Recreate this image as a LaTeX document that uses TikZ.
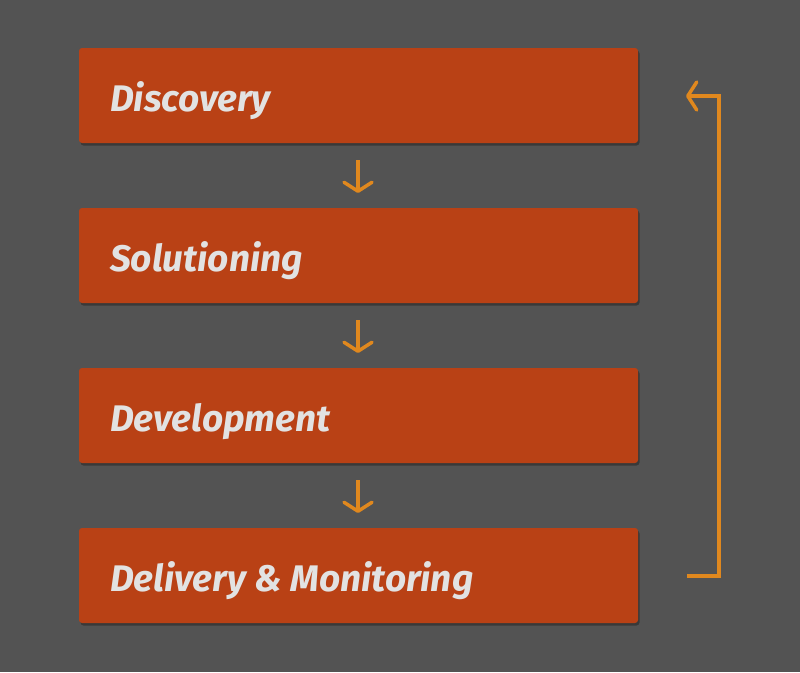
\documentclass[tikz,border=0pt]{standalone}
\usepackage{fontspec}
\setmainfont{Fira Sans}
\usetikzlibrary{arrows.meta,shadows}
\definecolor{bg}{HTML}{535353}
\definecolor{boxc}{HTML}{B94115}
\definecolor{arrc}{HTML}{E0881E}
\definecolor{txt}{HTML}{E2E2E2}
\tikzset{
  stagebox/.style={fill=boxc, rounded corners=3pt, minimum width=559pt, minimum height=95pt,
    inner sep=0pt, drop shadow={shadow xshift=1.5pt, shadow yshift=-2.5pt, opacity=0.3, fill=black}},
  stagetext/.style={anchor=base west, text=txt, font=\fontsize{37}{41}\selectfont\bfseries\itshape, inner sep=0pt},
  flowarrow/.style={draw=arrc, line width=3.5pt, -{Straight Barb[length=9pt, width=28pt, round]}},
}
\begin{document}
\begin{tikzpicture}[x=1pt,y=-1pt]
\fill[bg] (0,0) rectangle (800,672);
\useasboundingbox (0,0) rectangle (800,672);
\node[stagebox] (b1) at (358.5,95.5) {};
\node[stagebox] (b2) at (358.5,255.5) {};
\node[stagebox] (b3) at (358.5,415.5) {};
\node[stagebox] (b4) at (358.5,575.5) {};
\node[stagetext] (t1) at (110,111) {Discovery};
\node[stagetext] (t2) at (110,271) {Solutioning};
\node[stagetext] (t3) at (110,431) {Development};
\node[stagetext] (t4) at (110,591) {Delivery \& Monitoring};
\coordinate (a1s) at (358,160); \coordinate (a1e) at (358,193);
\coordinate (a2s) at (358,320); \coordinate (a2e) at (358,353);
\coordinate (a3s) at (358,480); \coordinate (a3e) at (358,513);
\draw[flowarrow] (a1s) -- (a1e);
\draw[flowarrow] (a2s) -- (a2e);
\draw[flowarrow] (a3s) -- (a3e);
\coordinate (ls) at (687,576);
\coordinate (le) at (686,96);
\draw[flowarrow] (ls) -- (719,576) -- (719,96) -- (le);
\end{tikzpicture}
\end{document}
